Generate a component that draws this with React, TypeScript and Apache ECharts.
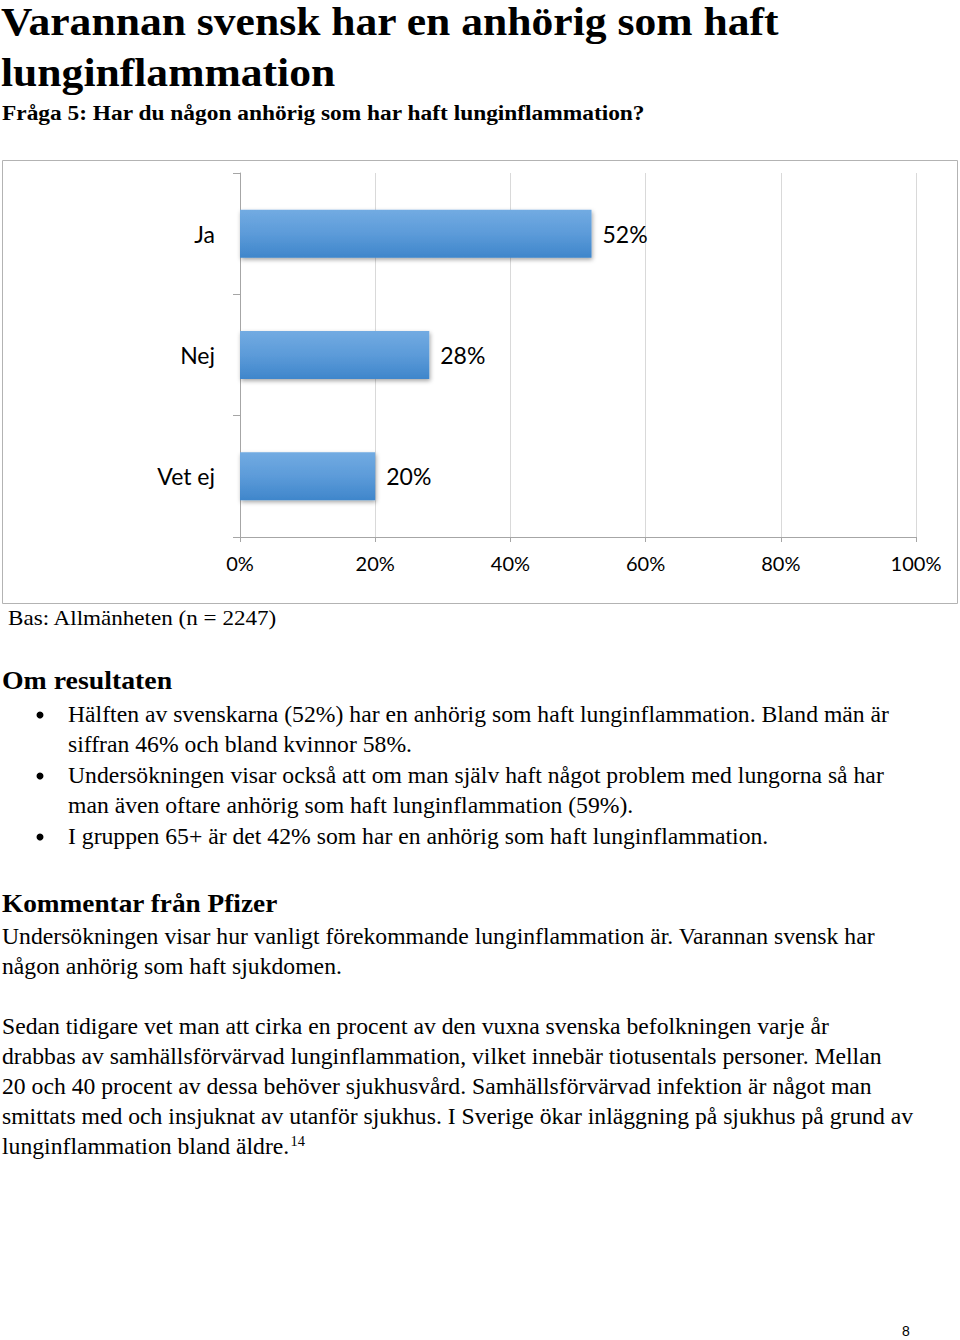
import React, { useEffect, useRef } from "react";
import * as echarts from "echarts";

const categories = ["Ja", "Nej", "Vet ej"];
const values = [52, 28, 20];
const xTickValues = [0, 20, 40, 60, 80, 100];

const titleLines = ["Varannan svensk har en anhörig som haft", "lunginflammation"];
const subtitle = "Fråga 5: Har du någon anhörig som har haft lunginflammation?";
const baseNote = "Bas: Allmänheten (n = 2247)";
const heading1 = "Om resultaten";
const bulletItems = [
  ["Hälften av svenskarna (52%) har en anhörig som haft lunginflammation. Bland män är", "siffran 46% och bland kvinnor 58%."],
  ["Undersökningen visar också att om man själv haft något problem med lungorna så har", "man även oftare anhörig som haft lunginflammation (59%)."],
  ["I gruppen 65+ är det 42% som har en anhörig som haft lunginflammation."],
];
const heading2 = "Kommentar från Pfizer";
const para1 = ["Undersökningen visar hur vanligt förekommande lunginflammation är. Varannan svensk har", "någon anhörig som haft sjukdomen."];
const para2 = [
  "Sedan tidigare vet man att cirka en procent av den vuxna svenska befolkningen varje år",
  "drabbas av samhällsförvärvad lunginflammation, vilket innebär tiotusentals personer. Mellan",
  "20 och 40 procent av dessa behöver sjukhusvård. Samhällsförvärvad infektion är något man",
  "smittats med och insjuknat av utanför sjukhus. I Sverige ökar inläggning på sjukhus på grund av",
];
const para2Last = "lunginflammation bland äldre.";
const footnoteRef = "14";
const pageNumber = "8";

const SERIF = '"Liberation Serif", "Times New Roman", serif';
const SANS = 'Lato, "Open Sans", sans-serif';
const BODY = 23;
const BODY_SX = 1.03;

function txt(text: string, x: number, y: number, size: number, bold = false, sx = 1, family = SERIF) {
  return {
    type: "text",
    x,
    y,
    scaleX: sx,
    silent: true,
    style: {
      text,
      fill: "#000",
      font: `${bold ? "bold " : ""}${size}px ${family}`,
      textAlign: "left",
      textVerticalAlign: "middle",
      align: "left",
      verticalAlign: "middle",
    },
  };
}

export default function App() {
  const ref = useRef<HTMLDivElement>(null);
  useEffect(() => {
    if (!ref.current) return;
    const chart = echarts.init(ref.current, undefined, { renderer: "svg" });

    const graphics: any[] = [];
    graphics.push({
      type: "rect",
      silent: true,
      z: -10,
      shape: { x: 2.5, y: 160.5, width: 955, height: 443 },
      style: { fill: "#fff", stroke: "#b3b3b3", lineWidth: 1 },
    });
    graphics.push(txt(titleLines[0], 1, 21.5, 40, true, 1.09));
    graphics.push(txt(titleLines[1], 1, 72.5, 40, true, 1.09));
    graphics.push(txt(subtitle, 2, 113, 22, true, 1.063));
    graphics.push(txt(baseNote, 8, 618, 22, false, 1.05));
    graphics.push(txt(heading1, 2, 680, 26, true, 1.07));
    const bulletY = [714, 775, 836];
    bulletItems.forEach((lines, i) => {
      graphics.push({
        type: "circle",
        silent: true,
        shape: { cx: 40, cy: bulletY[i] + 1, r: 3.5 },
        style: { fill: "#000" },
      });
      lines.forEach((l, j) => graphics.push(txt(l, 68, bulletY[i] + j * 30.5, BODY, false, BODY_SX)));
    });
    graphics.push(txt(heading2, 2, 903, 26, true, 1.05));
    para1.forEach((l, j) => graphics.push(txt(l, 2, 936 + j * 30, BODY, false, BODY_SX)));
    para2.forEach((l, j) => graphics.push(txt(l, 2, 1026 + j * 30, BODY, false, BODY_SX)));
    graphics.push({
      type: "text",
      x: 2,
      y: 1146,
      scaleX: BODY_SX,
      silent: true,
      style: {
        text: `{a|${para2Last}}{s|${footnoteRef}}`,
        fill: "#000",
        font: `${BODY}px ${SERIF}`,
        textVerticalAlign: "middle",
        verticalAlign: "middle",
        rich: {
          a: { font: `${BODY}px ${SERIF}`, fill: "#000" },
          s: { font: `14px ${SERIF}`, fill: "#000", verticalAlign: "top", padding: [0, 0, 0, 1] },
        },
      },
    });
    graphics.push(txt(pageNumber, 902, 1331, 14, false, 1, '"Liberation Sans", Arial, sans-serif'));

    const axisGray = "#a6a6a6";
    chart.setOption({
      animation: false,
      backgroundColor: "#fff",
      grid: { left: 240, right: 44, top: 173, bottom: 803, containLabel: false, outerBoundsMode: "none" },
      xAxis: {
        type: "value",
        min: xTickValues[0],
        max: xTickValues[xTickValues.length - 1],
        interval: xTickValues[1] - xTickValues[0],
        axisLine: { show: true, lineStyle: { color: axisGray, width: 1 } },
        axisTick: { show: true, length: 5, lineStyle: { color: axisGray } },
        splitLine: { show: true, lineStyle: { color: "#d9d9d9", width: 1 } },
        axisLabel: { formatter: "{value}%", margin: 16, color: "#000", fontSize: 20, fontFamily: SANS },
      },
      yAxis: {
        type: "category",
        data: categories,
        inverse: true,
        axisLine: { show: true, lineStyle: { color: axisGray, width: 1 } },
        axisTick: { show: true, length: 7, alignWithLabel: false, lineStyle: { color: axisGray } },
        splitLine: { show: false },
        axisLabel: { margin: 25, color: "#000", fontSize: 23, fontFamily: SANS },
      },
      series: [
        {
          type: "bar",
          data: values,
          barWidth: 48,
          itemStyle: {
            color: new echarts.graphic.LinearGradient(0, 0, 0, 1, [
              { offset: 0, color: "#72abe2" },
              { offset: 0.5, color: "#5c9bd9" },
              { offset: 1, color: "#3f86cb" },
            ]),
            shadowColor: "rgba(0,0,0,0.35)",
            shadowBlur: 4,
            shadowOffsetX: 1,
            shadowOffsetY: 2,
          },
          label: {
            show: true,
            position: "right",
            distance: 11,
            formatter: "{c}%",
            color: "#000",
            fontSize: 23,
            fontFamily: SANS,
          },
        },
      ],
      graphic: { elements: graphics },
    });
    return () => chart.dispose();
  }, []);
  return (
    <div
      ref={ref}
      style={{ position: "absolute", left: 0, top: 0, width: 960, height: 1340, background: "#fff" }}
    />
  );
}
